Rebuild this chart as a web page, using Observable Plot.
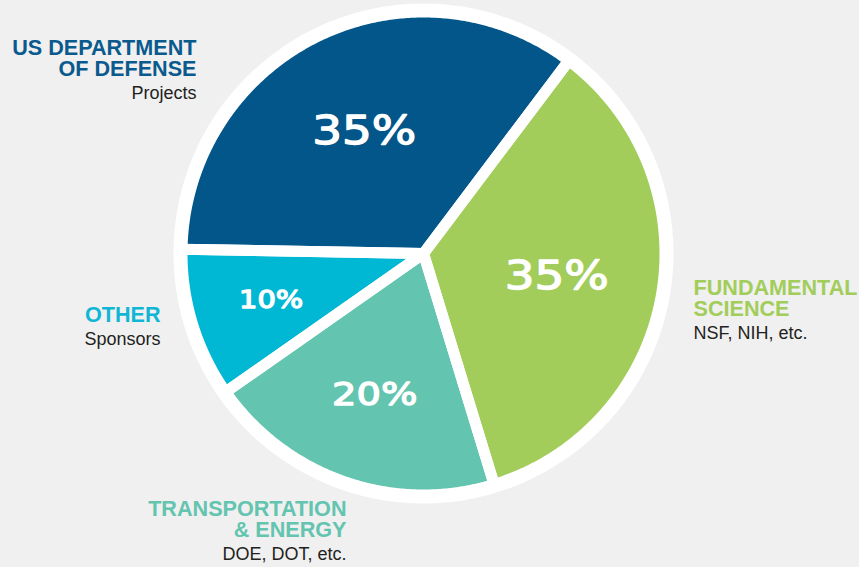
<!DOCTYPE html>
<html>
<head>
<meta charset="utf-8">
<script src="https://cdn.jsdelivr.net/npm/d3@7"></script>
<script src="https://cdn.jsdelivr.net/npm/@observablehq/plot@0.6"></script>
<style>
  html, body { margin: 0; padding: 0; background: #f0f0f0; }
  #chart { width: 859px; height: 567px; overflow: hidden; }
</style>
</head>
<body>
<div id="chart"></div>
<script>
// ---- data ----
const categories = ["Fundamental Science", "Transportation & Energy", "Other", "US Department of Defense"];
const shares = [35, 20, 10, 35];
const percentLabels = ["35%", "20%", "10%", "35%"];
const titles = ["FUNDAMENTAL\nSCIENCE", "TRANSPORTATION\n& ENERGY", "OTHER", "US DEPARTMENT\nOF DEFENSE"];
const subtitles = ["NSF, NIH, etc.", "DOE, DOT, etc.", "Sponsors", "Projects"];
const sliceColors = ["#a2cd5a", "#63c4af", "#00b8d4", "#02568a"];
const titleColors = ["#a2cd5a", "#63c4af", "#10b6d5", "#0a5a8e"];

// ---- layout ----
const W = 859, H = 567, CX = 423, CY = 253, R = 241.5, RING = 250;
const startDeg = 37;

const rows = categories.map((c, i) => ({category: c, value: shares[i], label: percentLabels[i]}));
const pie = d3.pie().sort(null).value(d => d.value)
  .startAngle(startDeg * Math.PI / 180)
  .endAngle(startDeg * Math.PI / 180 + 2 * Math.PI);
const arcs = pie(rows);

// polygon outline of each slice (unit radius), from the pie angles
const outline = arcs.flatMap(a => {
  const pts = [{category: a.data.category, x: 0, y: 0}];
  const n = Math.max(2, Math.ceil((a.endAngle - a.startAngle) / (Math.PI / 360)));
  for (let k = 0; k <= n; ++k) {
    const t = a.startAngle + (a.endAngle - a.startAngle) * k / n;
    pts.push({category: a.data.category, x: Math.sin(t), y: Math.cos(t)});
  }
  return pts;
});

const labelRadius = d3.scaleLinear([10, 35], [0.66, 0.56]);
const labelSize = d3.scaleLinear([10, 20, 35], [24, 32, 39]);
const pctLabels = arcs.map(a => {
  const mid = (a.startAngle + a.endAngle) / 2;
  const r = labelRadius(a.data.value);
  return {x: r * Math.sin(mid), y: r * Math.cos(mid), text: a.data.label, size: labelSize(a.data.value)};
});

const center = [{x: 0, y: 0}];

function outerLabel(i, px, py, anchor) {
  return [
    Plot.text([titles[i]], {
      frameAnchor: "top-left", dx: px, dy: py, text: d => d, textAnchor: anchor,
      lineAnchor: "bottom", lineHeight: 0.95, fill: titleColors[i],
      fontFamily: "Liberation Sans", fontWeight: "bold", fontSize: 21.6
    }),
    Plot.text([subtitles[i]], {
      frameAnchor: "top-left", dx: px, dy: py + 23, text: d => d, textAnchor: anchor,
      lineAnchor: "bottom", fill: "#231f20",
      fontFamily: "Liberation Sans", fontSize: 18
    })
  ];
}

const chart = Plot.plot({
  width: W,
  height: H,
  margin: 0,
  style: {background: "#f0f0f0", overflow: "visible"},
  x: {domain: [-CX / R, (W - CX) / R], range: [0, W], axis: null},
  y: {domain: [-(H - CY) / R, CY / R], range: [H, 0], axis: null},
  color: {domain: categories, range: sliceColors},
  marks: [
    Plot.dot(center, {x: "x", y: "y", r: RING, fill: "white", stroke: "none"}),
    Plot.line(outline, {x: "x", y: "y", z: "category", fill: "category", stroke: "none", curve: "linear-closed"}),
    Plot.line(outline, {x: "x", y: "y", z: "category", fill: "none", stroke: "white", strokeWidth: 11, strokeLinejoin: "round", curve: "linear-closed"}),
    Plot.text(pctLabels, {x: "x", y: "y", text: "text", fontSize: "size", fill: "white", stroke: "white", strokeWidth: 1.3, fontFamily: "DejaVu Sans"}),
    ...outerLabel(0, 693, 315, "start"),
    ...outerLabel(1, 346, 536, "end"),
    ...outerLabel(2, 160, 321, "end"),
    ...outerLabel(3, 196, 75, "end")
  ]
});

document.getElementById("chart").appendChild(chart);

// widen the percentage glyphs (the reference uses an extended face)
chart.querySelectorAll('g[font-family="DejaVu Sans"] text').forEach(t => {
  const L = t.getComputedTextLength();
  t.setAttribute("textLength", (L * 1.2).toFixed(1));
  t.setAttribute("lengthAdjust", "spacingAndGlyphs");
});
</script>
</body>
</html>
